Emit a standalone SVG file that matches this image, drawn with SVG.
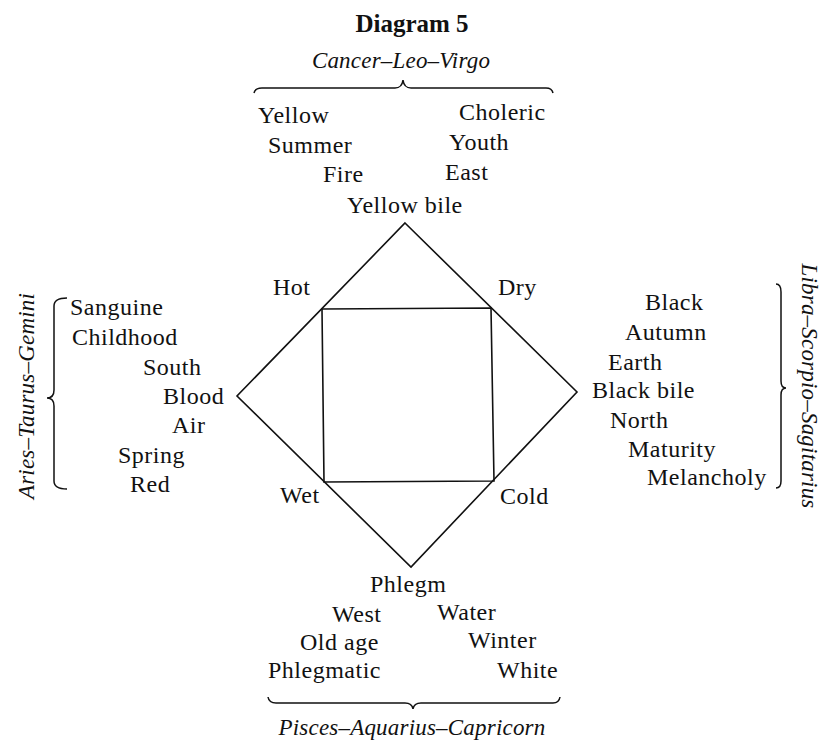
<svg xmlns="http://www.w3.org/2000/svg" width="823" height="743" viewBox="0 0 823 743">
<style>
text{font-family:"Liberation Serif","Times New Roman",serif;font-size:24px;fill:#111;letter-spacing:0.5px;}
.t{font-weight:bold;font-size:25px;letter-spacing:0;}
.i{font-style:italic;font-size:23px;letter-spacing:0.2px;}
.ln{fill:none;stroke:#111;stroke-width:1.6;stroke-linejoin:miter;}
.br{fill:none;stroke:#111;stroke-width:1.5;}
</style>
<rect width="823" height="743" fill="#fff"/>
<g id="title"><text class="t" x="412" y="32" text-anchor="middle">Diagram 5</text></g>
<g id="figure">
<polygon class="ln" points="405,223 577,392 411,567 237,396"/>
<polygon class="ln" points="322,309 491,308 494,481 324,482"/>
</g>
<g id="braces">
<path class="br" d="M254,93 Q255,88 262,88 L395,88 Q402,88 403,80 Q404,88 411,88 L546,88 Q552,88 553,93"/>
<path class="br" d="M268,697 Q269,703 276,703 L405,703 Q412,703 413,709 Q414,703 421,703 L553,703 Q559,703 560,697"/>
<path class="br" d="M67,298 Q54,298 54,306 L54,390 Q54,398 47,398 Q54,398 54,406 L54,481 Q54,489 67,489"/>
<path class="br" d="M776,284 Q781,284 781,292 L781,381 Q781,388 786,388 Q781,388 781,395 L781,481 Q781,488 776,488"/>
</g>
<g id="top">
<text class="i" x="401" y="68" text-anchor="middle">Cancer–Leo–Virgo</text>
<text x="258" y="123">Yellow</text>
<text x="459" y="120">Choleric</text>
<text x="268" y="153">Summer</text>
<text x="449" y="150">Youth</text>
<text x="323" y="182">Fire</text>
<text x="445" y="180">East</text>
<text x="347" y="213">Yellow bile</text>
</g>
<g id="corners">
<text x="273" y="295">Hot</text>
<text x="498" y="295">Dry</text>
<text x="280" y="503">Wet</text>
<text x="500" y="504">Cold</text>
</g>
<g id="left">
<text class="i" transform="translate(34,396) rotate(-90)" text-anchor="middle">Aries–Taurus–Gemini</text>
<text x="70" y="315">Sanguine</text>
<text x="72" y="345">Childhood</text>
<text x="143" y="375">South</text>
<text x="163" y="404">Blood</text>
<text x="172" y="433">Air</text>
<text x="118" y="463">Spring</text>
<text x="130" y="492">Red</text>
</g>
<g id="right">
<text class="i" transform="translate(802,386) rotate(90)" text-anchor="middle">Libra–Scorpio–Sagitarius</text>
<text x="645" y="310">Black</text>
<text x="625" y="340">Autumn</text>
<text x="608" y="370">Earth</text>
<text x="592" y="398">Black bile</text>
<text x="610" y="428">North</text>
<text x="628" y="457">Maturity</text>
<text x="647" y="485">Melancholy</text>
</g>
<g id="bottom">
<text x="370" y="592">Phlegm</text>
<text x="332" y="622">West</text>
<text x="437" y="620">Water</text>
<text x="300" y="650">Old age</text>
<text x="468" y="648">Winter</text>
<text x="268" y="678">Phlegmatic</text>
<text x="497" y="678">White</text>
<text class="i" x="412" y="735" text-anchor="middle">Pisces–Aquarius–Capricorn</text>
</g>
</svg>
